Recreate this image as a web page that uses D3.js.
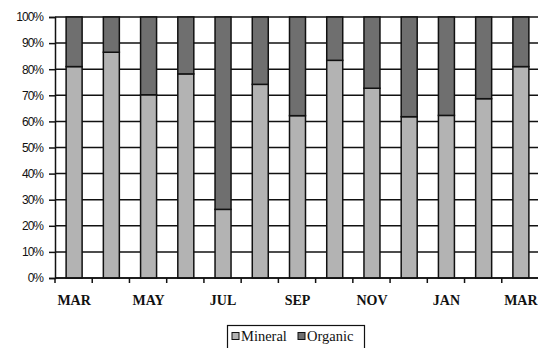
<!DOCTYPE html>
<html><head><meta charset="utf-8">
<script src="https://cdn.jsdelivr.net/npm/d3@7"></script>
</head>
<body style="margin:0;background:#fff">
<svg id="chart" width="538" height="348" style="display:block"></svg>
<script>
const months = ["MAR","APR","MAY","JUN","JUL","AUG","SEP","OCT","NOV","DEC","JAN","FEB","MAR2"];
const tickLabels = ["MAR","","MAY","","JUL","","SEP","","NOV","","JAN","","MAR"];
const mineral = [81, 86.5, 70.2, 78.2, 26.3, 74.2, 62.2, 83.4, 72.7, 61.8, 62.3, 68.7, 81];
const organic = mineral.map(v => 100 - v);
const yTicks = [0,10,20,30,40,50,60,70,80,90,100];
const seriesNames = ["Mineral","Organic"];
const colors = ["#b3b3b3","#6f6f6f"];

const svg = d3.select("#chart");
const L = 55, R = 539, T = 17, B = 278;
const x = d3.scaleBand().domain(months).range([L, R]);
const y = d3.scaleLinear().domain([0,100]).range([B, T]);

// gridlines
svg.append("g").selectAll("line").data(yTicks).join("line")
  .attr("x1", L).attr("x2", R)
  .attr("y1", d => y(d)).attr("y2", d => y(d))
  .attr("stroke", "#111").attr("stroke-width", 1.5);

// stacked bars
const rows = months.map((m,i) => ({m, Mineral: mineral[i], Organic: organic[i]}));
const stack = d3.stack().keys(seriesNames)(rows);
const bw = 16;
svg.append("g").selectAll("g").data(stack).join("g")
  .attr("fill", (d,i) => colors[i])
  .selectAll("rect").data(d => d).join("rect")
  .attr("x", d => x(d.data.m) + x.bandwidth()/2 - bw/2 + 0.5)
  .attr("width", bw)
  .attr("y", d => y(d[1]))
  .attr("height", d => y(d[0]) - y(d[1]))
  .attr("stroke", "#111").attr("stroke-width", 1.5);

// y axis
const yAxis = d3.axisLeft(y).tickValues(yTicks).tickFormat(d => d + "%").tickSize(6).tickPadding(6);
const gy = svg.append("g").attr("transform", `translate(${L},0)`).call(yAxis);
gy.select(".domain").attr("stroke", "#111").attr("stroke-width", 1.5);
gy.selectAll(".tick line").attr("stroke", "#111").attr("stroke-width", 1.5);
gy.selectAll("text").style("font-family", '"Liberation Sans"')
  .style("font-size", "12px").style("letter-spacing", "-1px").attr("fill", "#111");

// x axis ticks at category boundaries
const boundaries = months.map(m => x(m));
svg.append("g").selectAll("line").data(boundaries).join("line")
  .attr("x1", d => d).attr("x2", d => d)
  .attr("y1", B).attr("y2", B + 5)
  .attr("stroke", "#111").attr("stroke-width", 1.5);
svg.append("line").attr("x1", L).attr("x2", R).attr("y1", B).attr("y2", B)
  .attr("stroke", "#111").attr("stroke-width", 1.5);
months.forEach((m, i) => {
  svg.append("text")
    .attr("x", x(m) + x.bandwidth()/2 + 0.5)
    .attr("y", 305)
    .attr("text-anchor", "middle")
    .attr("font-family", "Liberation Serif")
    .style("font-family", '"Liberation Serif"')
    .style("font-weight", "bold")
    .style("font-size", "14px")
    .attr("fill", "#111")
    .text(tickLabels[i]);
});

// legend
svg.append("rect").attr("x", 227.5).attr("y", 325.5).attr("width", 137).attr("height", 30)
  .attr("fill", "#fff").attr("stroke", "#111").attr("stroke-width", 1.2);
const items = [{n: seriesNames[0], c: colors[0], x: 232}, {n: seriesNames[1], c: colors[1], x: 298}];
items.forEach(it => {
  svg.append("rect").attr("x", it.x).attr("y", 332.5).attr("width", 7).attr("height", 7)
    .attr("fill", it.c).attr("stroke", "#111").attr("stroke-width", 1);
  svg.append("text").attr("x", it.x + 9).attr("y", 341)
    .attr("font-family", "Liberation Serif")
    .style("font-family", '"Liberation Serif"')
    .style("font-size", "14.5px")
    .attr("fill", "#111").text(it.n);
});
</script>
</body></html>
